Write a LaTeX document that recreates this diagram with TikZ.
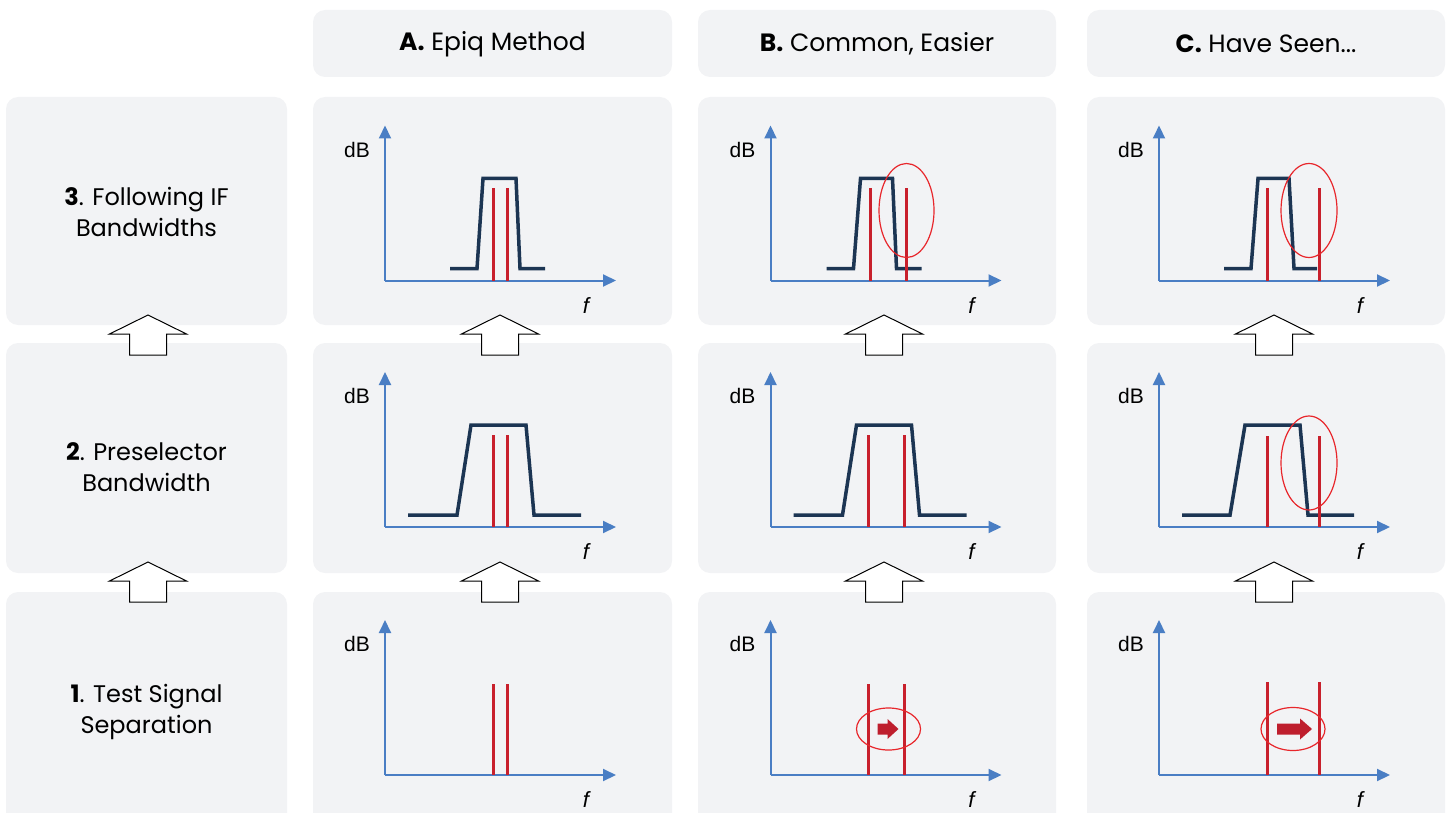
\documentclass[tikz,border=0pt]{standalone}
\usepackage{fontspec}
\setmainfont{Poppins}
\newfontfamily\axfont{Liberation Sans}
\usetikzlibrary{arrows.meta}
\definecolor{boxbg}{HTML}{F2F3F5}
\definecolor{axblue}{HTML}{4A7EC4}
\definecolor{navy}{HTML}{1C3553}
\definecolor{sigred}{HTML}{C8202C}
\definecolor{ringred}{HTML}{E8262B}
\definecolor{arrred}{HTML}{BE1E2D}
\tikzset{
  panel/.style={fill=boxbg, rounded corners=12pt, draw=none, inner sep=0pt},
  axisline/.style={draw=axblue, line width=2pt},
  filt/.style={draw=navy, line width=3.5pt, line join=miter},
  sig/.style={draw=sigred, line width=3pt},
  ring/.style={draw=ringred, line width=1.2pt},
  blockarr/.style={draw=black, fill=white, line width=1pt, line join=miter},
  lbl/.style={font=\fontsize{24}{31}\selectfont, align=center, text=black, inner sep=0pt},
  hdr/.style={font=\fontsize{25}{28}\selectfont, text=black},
  axlbl/.style={font=\axfont\fontsize{21}{24}\selectfont, text=black, inner sep=0pt},
}
\newcommand{\plotaxes}[2]{%
  \begin{scope}[shift={(#1,#2)}]
    \draw[axisline, -{Triangle[length=13pt,width=12pt]}] (0,0) -- (0,-155);
    \draw[axisline, -{Triangle[length=13pt,width=12pt]}] (0,0) -- (231,0);
    \node[axlbl] at (-28,-131) {dB};
    \node[axlbl, font=\axfont\itshape\fontsize{22}{24}\selectfont] at (201,25) {f};
  \end{scope}}
\newcommand{\uparrowat}[2]{%
  \draw[blockarr] (#1,#2) -- ++(38.5,19) -- ++(-20,0) -- ++(0,21) -- ++(-37,0) -- ++(0,-21) -- ++(-20,0) -- cycle;}
\begin{document}
\begin{tikzpicture}[x=1pt,y=-1pt]
\useasboundingbox (0,0) rectangle (1447,813);
\clip (0,0) rectangle (1447,813);
% header boxes
\node[panel, minimum width=359pt, minimum height=67pt] (hA) at (492.5,43.5) {};
\node[panel, minimum width=358pt, minimum height=67pt] (hB) at (877,43.5) {};
\node[panel, minimum width=358pt, minimum height=67pt] (hC) at (1266,43.5) {};
\node[hdr] (thA) at (492.5,44) {\textbf{A.} Epiq Method};
\node[hdr] (thB) at (877,44) {\textbf{B.} Common, Easier};
\node[hdr] (thC) at (1266,44) {\textbf{C.} Have Seen...};
% left column
\node[panel, minimum width=281pt, minimum height=228pt] (l3) at (146.5,211) {};
\node[panel, minimum width=281pt, minimum height=230pt] (l2) at (146.5,458) {};
\node[panel, minimum width=281pt, minimum height=240pt] (l1) at (146.5,712) {};
\node[lbl] (t3) at (146.5,212) {\textbf{3}. Following IF\\Bandwidths};
\node[lbl] (t2) at (146.5,467) {\textbf{2}. Preselector\\Bandwidth};
\node[lbl] (t1) at (146.5,712) {\textbf{1}. Test Signal\\Separation};
% plot panels
\foreach \cx/\w/\c in {492.5/359/A,877/358/B,1266/358/C}{
  \node[panel, minimum width=\w pt, minimum height=228pt] (p\c3) at (\cx,211) {};
  \node[panel, minimum width=\w pt, minimum height=230pt] (p\c2) at (\cx,458) {};
  \node[panel, minimum width=\w pt, minimum height=240pt] (p\c1) at (\cx,712) {};
}
% block arrows
\foreach \ax in {148,500,884,1274}{
  \uparrowat{\ax}{315}
  \uparrowat{\ax}{562}
}
% ---------- column A ----------
\plotaxes{385}{280.5}
\plotaxes{385}{527}
\plotaxes{385}{775}
\begin{scope}[shift={(385,280.5)}]
  \draw[filt] (65,-12) -- (92,-12) -- (98,-102) -- (131,-102) -- (135,-12) -- (160,-12);
  \draw[sig] (108,0) -- (108,-92);
  \draw[sig] (122,0) -- (122,-92);
\end{scope}
\begin{scope}[shift={(385,527)}]
  \draw[filt] (23,-12) -- (72,-12) -- (86,-102) -- (141,-102) -- (149,-12) -- (196,-12);
  \draw[sig] (108,0) -- (108,-92);
  \draw[sig] (122,0) -- (122,-92);
\end{scope}
\begin{scope}[shift={(385,775)}]
  \draw[sig] (108,0) -- (108,-91);
  \draw[sig] (122,0) -- (122,-91);
\end{scope}
% ---------- column B ----------
\plotaxes{770.5}{280.5}
\plotaxes{770.5}{527}
\plotaxes{770.5}{775}
\begin{scope}[shift={(770.5,280.5)}]
  \draw[filt] (56,-12) -- (83,-12) -- (90,-102) -- (122,-102) -- (126,-12) -- (151,-12);
  \draw[sig] (100,0) -- (100,-92);
  \draw[sig] (136,0) -- (136,-92);
  \draw[ring] (136,-70) ellipse [x radius=27.5pt, y radius=47pt];
\end{scope}
\begin{scope}[shift={(770.5,527)}]
  \draw[filt] (23,-12) -- (72,-12) -- (86,-102) -- (141,-102) -- (149,-12) -- (196,-12);
  \draw[sig] (98,0) -- (98,-92);
  \draw[sig] (134,0) -- (134,-92);
\end{scope}
\begin{scope}[shift={(770.5,775)}]
  \draw[sig] (98,0) -- (98,-91);
  \draw[sig] (134,0) -- (134,-91);
  \fill[arrred] (107,-51.5) -- (117,-51.5) -- (117,-56) -- (128,-46) -- (117,-36) -- (117,-40.5) -- (107,-40.5) -- cycle;
  \draw[ring] (118,-46) ellipse [x radius=32pt, y radius=21pt];
\end{scope}
% ---------- column C ----------
\plotaxes{1159}{280.5}
\plotaxes{1159}{527}
\plotaxes{1159}{775}
\begin{scope}[shift={(1159,280.5)}]
  \draw[filt] (65,-12) -- (92,-12) -- (99,-102) -- (130,-102) -- (135,-12) -- (158,-12);
  \draw[sig] (108,0) -- (108,-92);
  \draw[sig] (160,0) -- (160,-92);
  \draw[ring] (150,-70) ellipse [x radius=28pt, y radius=47pt];
\end{scope}
\begin{scope}[shift={(1159,527)}]
  \draw[filt] (23,-12) -- (71,-12) -- (86,-102) -- (141,-102) -- (149,-12) -- (195,-12);
  \draw[sig] (108,0) -- (108,-91);
  \draw[sig] (160,0) -- (160,-91);
  \draw[ring] (150,-64) ellipse [x radius=28pt, y radius=47pt];
\end{scope}
\begin{scope}[shift={(1159,775)}]
  \draw[sig] (108,0) -- (108,-93);
  \draw[sig] (160,0) -- (160,-93);
  \fill[arrred] (118,-51.5) -- (141,-51.5) -- (141,-56.5) -- (153,-46) -- (141,-35.5) -- (141,-40.5) -- (118,-40.5) -- cycle;
  \draw[ring] (134,-46) ellipse [x radius=32pt, y radius=21.5pt];
\end{scope}
\end{tikzpicture}
\end{document}
